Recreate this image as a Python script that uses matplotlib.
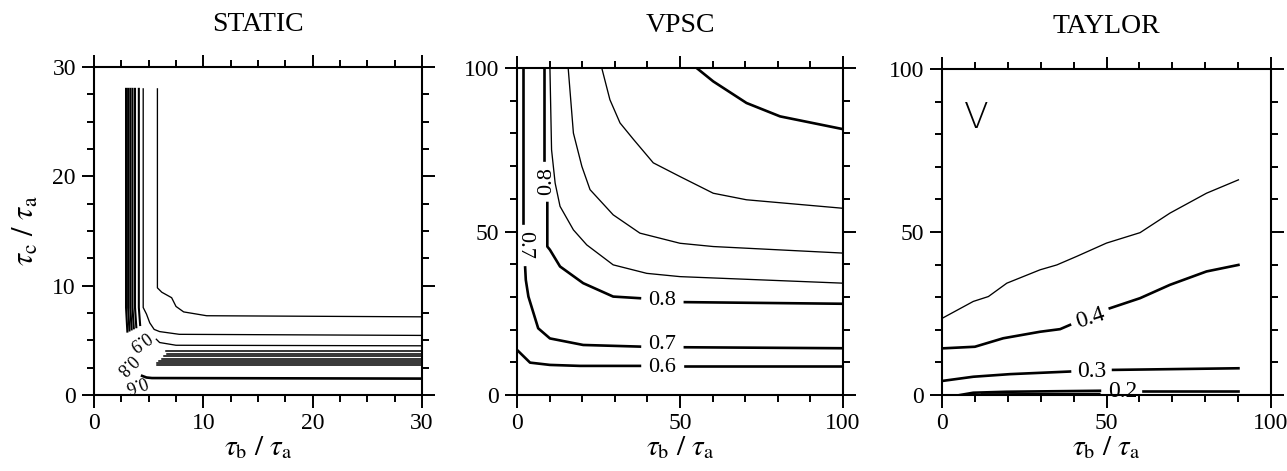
import matplotlib
matplotlib.use("Agg")
import matplotlib.pyplot as plt
from matplotlib.ticker import MultipleLocator

plt.rcParams['font.family'] = ['Liberation Serif', 'DejaVu Serif']
plt.rcParams['mathtext.fontset'] = 'stix'

# ---------------- data ----------------
titles = ["STATIC", "VPSC", "TAYLOR"]
limits = [30, 100, 100]
major_steps = [10, 50, 50]
minor_steps = [2.5, 10, 10]

# STATIC panel contour lines (x, y lists)
static_l1_x = [5.8, 5.8, 6.2, 7.1, 7.5, 8.2, 10.3, 30]
static_l1_y = [28, 9.8, 9.4, 8.9, 8.1, 7.6, 7.25, 7.15]
static_l2_x = [4.5, 4.5, 4.8, 5.1, 5.5, 6.0, 7.8, 30]
static_l2_y = [28, 8.0, 7.4, 6.6, 6.0, 5.8, 5.55, 5.45]
static_l3_x = [5.7, 6.0, 7.5, 30]
static_l3_y = [5.1, 4.8, 4.55, 4.5]
static_vert_x = [2.93, 3.12, 3.32, 3.52, 3.75, 4.1]
static_vert_bottom = [5.8, 5.9, 6.0, 6.1, 6.2, 6.4]
static_horiz_y = [3.98, 3.78, 3.55, 3.3, 3.1, 2.9, 2.7]
static_horiz_start = [6.6, 6.7, 6.4, 6.2, 5.9, 5.8, 5.8]
static_low_x = [4.4, 4.8, 5.3, 30]
static_low_y = [1.75, 1.6, 1.55, 1.5]
static_labels = ["0.9", "0.8", "0.6"]
static_label_x = [4.1, 2.9, 3.8]
static_label_y = [5.0, 2.8, 1.1]
static_label_rot = [215, 225, 200]

# VPSC panel
vpsc_06_a_x = [0, 4, 10.1, 19.3, 37.7]
vpsc_06_a_y = [13.8, 9.9, 9.2, 8.9, 8.9]
vpsc_06_b_x = [51.5, 100]
vpsc_06_b_y = [8.9, 8.9]
vpsc_07_top_x = [1.9, 1.9]
vpsc_07_top_y = [100, 52.5]
vpsc_07_a_x = [2.5, 2.7, 3.5, 6.5, 10.1, 20.3, 37.7]
vpsc_07_a_y = [39, 35.2, 30.1, 20.4, 17.3, 15.3, 14.8]
vpsc_07_b_x = [51.5, 100]
vpsc_07_b_y = [14.6, 14.3]
vpsc_08_top_x = [8.3, 8.3]
vpsc_08_top_y = [100, 72]
vpsc_08_a_x = [9.3, 9.3, 10.1, 13.2, 20.3, 29.5, 37.7]
vpsc_08_a_y = [58.7, 45.4, 44.4, 39.3, 34.2, 30.1, 29.6]
vpsc_08_b_x = [51.5, 100]
vpsc_08_b_y = [28.4, 27.9]
vpsc_thin1_x = [10.1, 10.6, 11.7, 13.2, 17.3, 21.4, 29.5, 39.8, 50, 100]
vpsc_thin1_y = [100, 75, 64.8, 57.7, 50.5, 45.9, 39.8, 37.2, 36.2, 34.2]
vpsc_thin2_x = [15.7, 17.3, 19.9, 22.4, 29.5, 37.7, 50, 60.2, 100]
vpsc_thin2_y = [100, 80.1, 69.9, 62.8, 55.1, 49.5, 46.4, 45.4, 43.4]
vpsc_thin3_x = [26, 28.5, 31.6, 35.7, 41.8, 50, 60.2, 70.4, 100]
vpsc_thin3_y = [100, 90.3, 83.2, 78.2, 71, 66.8, 61.7, 59.7, 57.1]
vpsc_top_x = [55.1, 60.2, 70.4, 80.7, 100]
vpsc_top_y = [100, 95.9, 89.3, 85.2, 81.3]
vpsc_labels = ["0.6", "0.7", "0.8", "0.7", "0.8"]
vpsc_label_x = [44.5, 44.5, 44.5, 2.3, 9.2]
vpsc_label_y = [8.5, 15.3, 29.0, 46.0, 65.5]
vpsc_label_rot = [0, 0, 0, -90, 90]

# TAYLOR panel
taylor_thin_x = [0, 9.5, 14.1, 19.7, 29.8, 34.9, 40.9, 50, 60.2, 69.3, 80.4, 90.1]
taylor_thin_y = [23.5, 28.7, 30.2, 34.3, 38.4, 39.9, 42.5, 46.6, 49.8, 55.8, 61.9, 66]
taylor_04_a_x = [0, 10, 18.6, 29.8, 35.9, 38.9]
taylor_04_a_y = [14.3, 14.8, 17.4, 19.4, 20.2, 21.5]
taylor_04_b_x = [51, 60.2, 69.3, 80.4, 90.1]
taylor_04_b_y = [26.6, 29.7, 33.8, 37.9, 39.9]
taylor_03_a_x = [0, 9.5, 20.7, 38.9]
taylor_03_a_y = [4.3, 5.6, 6.4, 7.2]
taylor_03_b_x = [52, 90.1]
taylor_03_b_y = [7.7, 8.2]
taylor_02_a_x = [5.5, 9.5, 19.7, 48]
taylor_02_a_y = [0, 0.7, 1.0, 1.3]
taylor_02_b_x = [61.2, 90.1]
taylor_02_b_y = [1.3, 1.3]
taylor_01_x = [12, 48]
taylor_01_y = [0.35, 0.5]
taylor_labels = ["0.4", "0.3", "0.2"]
taylor_label_x = [45, 45.5, 55]
taylor_label_y = [23.5, 7.3, 1.0]
taylor_label_rot = [18, 0, 0]

THICK = 1.9
THIN = 0.95

fig = plt.figure(figsize=(12.87, 4.71), dpi=100)
positions = [
    [94 / 1287, 76 / 471, 328 / 1287, 328 / 471],
    [517 / 1287, 76 / 471, 326 / 1287, 327 / 471],
    [942 / 1287, 76 / 471, 329 / 1287, 326 / 471],
]
axes = [fig.add_axes(p) for p in positions]

for ax, title, lim, mj, mn in zip(axes, titles, limits, major_steps, minor_steps):
    ax.set_xlim(0, lim)
    ax.set_ylim(0, lim)
    ax.xaxis.set_major_locator(MultipleLocator(mj))
    ax.yaxis.set_major_locator(MultipleLocator(mj))
    ax.xaxis.set_minor_locator(MultipleLocator(mn))
    ax.yaxis.set_minor_locator(MultipleLocator(mn))
    ax.tick_params(which='both', direction='out', top=True, right=True,
                   labeltop=False, labelright=False, width=1.4, colors='black',
                   labelsize=17)
    ax.tick_params(which='major', length=9, pad=4)
    ax.tick_params(which='minor', length=5)
    for s in ax.spines.values():
        s.set_linewidth(1.5)
    ax.set_title(title, fontsize=20, pad=26)
    ax.set_xlabel(r'$\tau_{\rm b}\ /\ \tau_{\rm a}$', fontsize=21, labelpad=0)

axes[0].set_ylabel(r'$\tau_{\rm c}\ /\ \tau_{\rm a}$', fontsize=22, labelpad=8)

# ---- STATIC ----
a = axes[0]
a.plot(static_l1_x, static_l1_y, color='k', lw=THIN)
a.plot(static_l2_x, static_l2_y, color='k', lw=THIN)
a.plot(static_l3_x, static_l3_y, color='k', lw=THIN)
for xv, yb in zip(static_vert_x, static_vert_bottom):
    a.plot([xv, xv, xv + 0.12], [28, 8.0, yb], color='k', lw=1.5)
for yv, xs in zip(static_horiz_y, static_horiz_start):
    a.plot([xs, 30], [yv, yv], color='k', lw=1.1)
a.plot(static_low_x, static_low_y, color='k', lw=THICK)
for t, x, y, r in zip(static_labels, static_label_x, static_label_y, static_label_rot):
    a.text(x, y, t, fontsize=13, rotation=r, ha='center', va='center')

# ---- VPSC ----
a = axes[1]
for xs, ys in [(vpsc_06_a_x, vpsc_06_a_y), (vpsc_06_b_x, vpsc_06_b_y),
               (vpsc_07_top_x, vpsc_07_top_y), (vpsc_07_a_x, vpsc_07_a_y),
               (vpsc_07_b_x, vpsc_07_b_y), (vpsc_08_top_x, vpsc_08_top_y),
               (vpsc_08_a_x, vpsc_08_a_y), (vpsc_08_b_x, vpsc_08_b_y),
               (vpsc_top_x, vpsc_top_y)]:
    a.plot(xs, ys, color='k', lw=THICK)
for xs, ys in [(vpsc_thin1_x, vpsc_thin1_y), (vpsc_thin2_x, vpsc_thin2_y),
               (vpsc_thin3_x, vpsc_thin3_y)]:
    a.plot(xs, ys, color='k', lw=THIN)
for t, x, y, r in zip(vpsc_labels, vpsc_label_x, vpsc_label_y, vpsc_label_rot):
    a.text(x, y, t, fontsize=16, rotation=r, ha='center', va='center')

# ---- TAYLOR ----
a = axes[2]
a.plot(taylor_thin_x, taylor_thin_y, color='k', lw=THIN)
for xs, ys in [(taylor_04_a_x, taylor_04_a_y), (taylor_04_b_x, taylor_04_b_y),
               (taylor_03_a_x, taylor_03_a_y), (taylor_03_b_x, taylor_03_b_y),
               (taylor_02_a_x, taylor_02_a_y), (taylor_02_b_x, taylor_02_b_y)]:
    a.plot(xs, ys, color='k', lw=THICK)
a.plot(taylor_01_x, taylor_01_y, color='k', lw=THIN)
for t, x, y, r in zip(taylor_labels, taylor_label_x, taylor_label_y, taylor_label_rot):
    a.text(x, y, t, fontsize=17, rotation=r, ha='center', va='center')
a.text(10.5, 85, "V", fontsize=26, family='DejaVu Sans', fontweight='light',
       ha='center', va='center')

fig.savefig("out.png", dpi=100)
